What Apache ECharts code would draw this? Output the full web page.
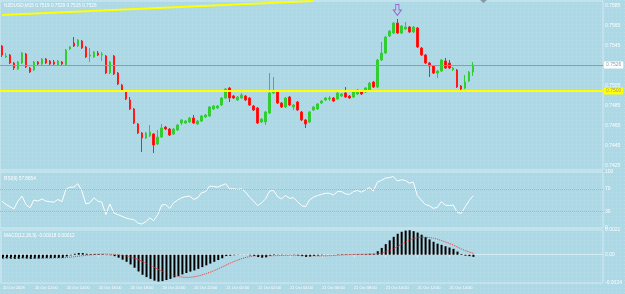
<!DOCTYPE html>
<html>
<head>
<meta charset="utf-8">
<title>NZDUSD M15</title>
<script src="https://cdn.jsdelivr.net/npm/echarts@6/dist/echarts.min.js"></script>
<style>
    html, body { margin: 0; padding: 0; background: #add8e6; }
    #main { width: 625px; height: 294px; }
</style>
</head>
<body>
<div id="main"></div>
<script type="text/javascript">
    // NZDUSD 15 minute bars, 20 Oct 10:00 .. 21 Oct 15:30
    var opens = [
        0.7545, 0.7534, 0.7536, 0.7528, 0.7522, 0.7528, 0.7537, 0.7523, 0.7521, 0.7529,
        0.7527, 0.7532, 0.7530, 0.7529, 0.7526, 0.7529, 0.7526, 0.7542, 0.7548, 0.7545,
        0.7550, 0.7544, 0.7535, 0.7534, 0.7538, 0.7536, 0.7535, 0.7518, 0.7535, 0.7518,
        0.7506, 0.7500, 0.7491, 0.7482, 0.7467, 0.7458, 0.7453, 0.7455, 0.7457, 0.7447,
        0.7454, 0.7464, 0.7462, 0.7457, 0.7461, 0.7468, 0.7468, 0.7469, 0.7473, 0.7467,
        0.7470, 0.7474, 0.7475, 0.7482, 0.7483, 0.7486, 0.7493, 0.7503, 0.7495, 0.7491,
        0.7493, 0.7495, 0.7493, 0.7485, 0.7483, 0.7469, 0.7469, 0.7478, 0.7498, 0.7499,
        0.7488, 0.7484, 0.7494, 0.7484, 0.7489, 0.7479, 0.7471, 0.7469, 0.7481, 0.7482,
        0.7488, 0.7491, 0.7492, 0.7493, 0.7492, 0.7495, 0.7498, 0.7495, 0.7494, 0.7497,
        0.7500, 0.7499, 0.7501, 0.7509, 0.7504, 0.7531, 0.7538, 0.7555, 0.7558, 0.7568,
        0.7558, 0.7562, 0.7564, 0.7559, 0.7563, 0.7543, 0.7536, 0.7528, 0.7525, 0.7518,
        0.7520, 0.7530, 0.7528, 0.7521, 0.7521, 0.7505, 0.7503, 0.7510, 0.7519
    ];
    var closes = [
        0.7536, 0.7535, 0.7528, 0.7523, 0.7529, 0.7538, 0.7524, 0.7519, 0.7529, 0.7527,
        0.7532, 0.7528, 0.7527, 0.7527, 0.7530, 0.7527, 0.7541, 0.7544, 0.7545, 0.7551,
        0.7543, 0.7534, 0.7536, 0.7539, 0.7536, 0.7537, 0.7518, 0.7529, 0.7517, 0.7507,
        0.7500, 0.7492, 0.7482, 0.7468, 0.7458, 0.7453, 0.7458, 0.7459, 0.7446, 0.7454,
        0.7463, 0.7462, 0.7456, 0.7462, 0.7466, 0.7471, 0.7470, 0.7473, 0.7468, 0.7470,
        0.7475, 0.7476, 0.7484, 0.7485, 0.7485, 0.7493, 0.7502, 0.7493, 0.7493, 0.7494,
        0.7496, 0.7491, 0.7486, 0.7481, 0.7468, 0.7472, 0.7479, 0.7498, 0.7500, 0.7488,
        0.7484, 0.7493, 0.7486, 0.7486, 0.7481, 0.7471, 0.7467, 0.7479, 0.7484, 0.7487,
        0.7490, 0.7493, 0.7493, 0.7490, 0.7498, 0.7497, 0.7494, 0.7493, 0.7499, 0.7501,
        0.7497, 0.7503, 0.7508, 0.7504, 0.7531, 0.7538, 0.7554, 0.7560, 0.7568, 0.7558,
        0.7565, 0.7564, 0.7559, 0.7564, 0.7544, 0.7536, 0.7528, 0.7525, 0.7518, 0.7520,
        0.7531, 0.7523, 0.7523, 0.7523, 0.7504, 0.7502, 0.7509, 0.7519, 0.7526
    ];
    var highs = [
        0.7546, 0.7538, 0.7537, 0.7529, 0.7530, 0.7539, 0.7538, 0.7524, 0.7530, 0.7530,
        0.7533, 0.7533, 0.7531, 0.7531, 0.7531, 0.7530, 0.7542, 0.7545, 0.7554, 0.7552,
        0.7551, 0.7545, 0.7543, 0.7540, 0.7540, 0.7539, 0.7536, 0.7530, 0.7536, 0.7519,
        0.7507, 0.7501, 0.7494, 0.7483, 0.7468, 0.7459, 0.7459, 0.7466, 0.7458, 0.7461,
        0.7467, 0.7465, 0.7463, 0.7463, 0.7467, 0.7472, 0.7471, 0.7474, 0.7476, 0.7471,
        0.7476, 0.7477, 0.7485, 0.7486, 0.7486, 0.7494, 0.7503, 0.7504, 0.7496, 0.7495,
        0.7498, 0.7496, 0.7494, 0.7486, 0.7484, 0.7473, 0.7480, 0.7518, 0.7514, 0.7500,
        0.7489, 0.7494, 0.7495, 0.7487, 0.7490, 0.7480, 0.7472, 0.7480, 0.7485, 0.7488,
        0.7491, 0.7494, 0.7495, 0.7494, 0.7499, 0.7498, 0.7504, 0.7496, 0.7500, 0.7502,
        0.7501, 0.7504, 0.7509, 0.7510, 0.7532, 0.7549, 0.7555, 0.7561, 0.7569, 0.7572,
        0.7566, 0.7569, 0.7565, 0.7565, 0.7564, 0.7544, 0.7537, 0.7529, 0.7526, 0.7521,
        0.7532, 0.7533, 0.7531, 0.7524, 0.7522, 0.7506, 0.7516, 0.7520, 0.7529
    ];
    var lows = [
        0.7534, 0.7533, 0.7527, 0.7521, 0.7521, 0.7527, 0.7523, 0.7518, 0.7520, 0.7526,
        0.7526, 0.7527, 0.7526, 0.7525, 0.7525, 0.7526, 0.7525, 0.7541, 0.7544, 0.7544,
        0.7542, 0.7533, 0.7529, 0.7533, 0.7535, 0.7530, 0.7517, 0.7517, 0.7516, 0.7506,
        0.7499, 0.7491, 0.7481, 0.7467, 0.7457, 0.7439, 0.7452, 0.7454, 0.7438, 0.7446,
        0.7453, 0.7461, 0.7455, 0.7456, 0.7460, 0.7466, 0.7467, 0.7468, 0.7467, 0.7466,
        0.7469, 0.7473, 0.7474, 0.7481, 0.7482, 0.7485, 0.7492, 0.7489, 0.7492, 0.7490,
        0.7492, 0.7490, 0.7485, 0.7480, 0.7467, 0.7468, 0.7466, 0.7477, 0.7497, 0.7487,
        0.7483, 0.7483, 0.7485, 0.7481, 0.7480, 0.7470, 0.7463, 0.7468, 0.7480, 0.7481,
        0.7487, 0.7490, 0.7490, 0.7489, 0.7491, 0.7494, 0.7493, 0.7492, 0.7493, 0.7496,
        0.7496, 0.7498, 0.7500, 0.7503, 0.7503, 0.7530, 0.7537, 0.7554, 0.7557, 0.7557,
        0.7557, 0.7561, 0.7558, 0.7558, 0.7543, 0.7535, 0.7527, 0.7514, 0.7517, 0.7513,
        0.7519, 0.7522, 0.7522, 0.7520, 0.7503, 0.7500, 0.7502, 0.7509, 0.7515
    ];

    var rsi = [
        48, 42, 38, 34, 48, 57, 42, 36, 50, 48,
        52, 48, 47, 46, 51, 47, 69, 73, 73, 79,
        66, 43, 45, 54, 48, 46, 24, 43, 27, 24,
        21, 18, 16, 15, 9, 7, 11, 18, 13, 24,
        41, 42, 35, 45, 50, 54, 56, 57, 51, 54,
        63, 65, 75, 74, 73, 76, 79, 70, 70, 69,
        70, 64, 55, 48, 40, 45, 52, 66, 67, 56,
        52, 58, 53, 54, 47, 40, 38, 50, 55, 58,
        60, 62, 62, 59, 65, 65, 61, 60, 65, 67,
        64, 68, 72, 66, 82, 85, 89, 90, 92, 84,
        86, 85, 80, 82, 58, 50, 42, 40, 35, 37,
        47, 41, 40, 41, 28, 26, 38, 49, 57.8654
    ];

    var macdMain = [
        -0.00032, -0.00031, -0.00033, -0.00035, -0.00034, -0.00030, -0.00032, -0.00035, -0.00033, -0.00032,
        -0.00030, -0.00029, -0.00029, -0.00028, -0.00027, -0.00027, -0.00015, -0.00005, 0.00008, 0.00015,
        0.00014, 0.00008, 0.00006, 0.00007, 0.00006, 0.00005, -0.00003, -0.00004, -0.00012, -0.00025,
        -0.00042, -0.00060, -0.00082, -0.00110, -0.00142, -0.00170, -0.00190, -0.00205, -0.00220, -0.00228,
        -0.00224, -0.00215, -0.00205, -0.00192, -0.00180, -0.00167, -0.00155, -0.00143, -0.00133, -0.00120,
        -0.00105, -0.00090, -0.00075, -0.00060, -0.00045, -0.00030, -0.00012, -0.00008, -0.00004, -0.00002,
        0.00001, -0.00001, -0.00005, -0.00010, -0.00020, -0.00025, -0.00022, -0.00008, 0.00004, 0.00002,
        -0.00002, 0.00001, -0.00001, -0.00002, -0.00006, -0.00012, -0.00018, -0.00015, -0.00010, -0.00007,
        -0.00004, -0.00001, 0.00001, 0.00001, 0.00003, 0.00004, 0.00004, 0.00003, 0.00004, 0.00005,
        0.00005, 0.00006, 0.00008, 0.00008, 0.00030, 0.00058, 0.00090, 0.00122, 0.00152, 0.00178,
        0.00195, 0.00205, 0.00208, 0.00200, 0.00188, 0.00170, 0.00150, 0.00130, 0.00110, 0.00094,
        0.00084, 0.00072, 0.00061, 0.00050, 0.00027, 0.00006, -0.00008, -0.00012, -0.00018
    ];
    var macdSignal = [
        -0.00023, -0.00024, -0.00024, -0.00025, -0.00026, -0.00026, -0.00027, -0.00027, -0.00028, -0.00028,
        -0.00028, -0.00028, -0.00028, -0.00027, -0.00027, -0.00026, -0.00024, -0.00020, -0.00017, -0.00012,
        -0.00008, -0.00004, -0.00001, 0.00002, 0.00004, 0.00005, 0.00005, 0.00004, 0.00002, -0.00001,
        -0.00006, -0.00012, -0.00020, -0.00030, -0.00043, -0.00058, -0.00074, -0.00091, -0.00108, -0.00125,
        -0.00141, -0.00155, -0.00167, -0.00177, -0.00185, -0.00190, -0.00192, -0.00191, -0.00187, -0.00180,
        -0.00171, -0.00160, -0.00148, -0.00134, -0.00119, -0.00103, -0.00087, -0.00071, -0.00057, -0.00044,
        -0.00032, -0.00022, -0.00015, -0.00010, -0.00008, -0.00008, -0.00009, -0.00009, -0.00008, -0.00007,
        -0.00006, -0.00005, -0.00005, -0.00004, -0.00005, -0.00006, -0.00008, -0.00009, -0.00010, -0.00010,
        -0.00010, -0.00009, -0.00008, -0.00006, -0.00004, -0.00002, 0.00000, 0.00001, 0.00002, 0.00003,
        0.00004, 0.00004, 0.00005, 0.00005, 0.00008, 0.00014, 0.00024, 0.00037, 0.00053, 0.00071,
        0.00090, 0.00109, 0.00125, 0.00137, 0.00145, 0.00149, 0.00149, 0.00146, 0.00140, 0.00131,
        0.00120, 0.00108, 0.00095, 0.00081, 0.00065, 0.00049, 0.00034, 0.00022, 0.00012
    ];

    var timeLabels = ['20 Oct 2009', '20 Oct 12:00', '20 Oct 14:00', '20 Oct 16:00', '20 Oct 18:00',
        '20 Oct 20:00', '20 Oct 22:00', '21 Oct 00:00', '21 Oct 02:00', '21 Oct 04:00',
        '21 Oct 06:00', '21 Oct 08:00', '21 Oct 10:00', '21 Oct 12:00', '21 Oct 14:00'];
    var priceTicks = [0.7585, 0.7565, 0.7545, 0.7525, 0.7505, 0.7485, 0.7465, 0.7445, 0.7425];
    var rsiTicks = [100, 70, 30, 0];
    var rsiLevels = [70, 30];
    var macdTicks = [0.0021, 0, -0.0024];
    var supportLevel = 0.7500;
    var trendLine = [[0, 0.7576], [78, 0.7590]];
    var arrowBar = 99;
    var shiftBars = 32;   // empty space right of the last bar

    var last = closes.length - 1;
    var categories = [];
    for (var i = 0; i < closes.length + shiftBars; i++) {
        categories.push(String(i));
    }
    var candles = [];
    for (var i = 0; i < closes.length; i++) {
        candles.push([opens[i], closes[i], lows[i], highs[i]]);
    }

    var bg = '#add8e6';
    var txt = '#ffffff';
    var border = '#d4ecf4';
    var fontFamily = 'Liberation Sans, Arial, sans-serif';

    // faint dotted texture like the terminal's grid
    var tile = document.createElement('canvas');
    tile.width = 4;
    tile.height = 4;
    var tctx = tile.getContext('2d');
    tctx.fillStyle = bg;
    tctx.fillRect(0, 0, 4, 4);
    tctx.fillStyle = '#b9dfeb';
    tctx.fillRect(0, 0, 1, 1);

    function labelEvery8(idx) {
        return idx % 8 === 0 && idx / 8 < timeLabels.length;
    }

    function xAxis(gridIndex, showLabels) {
        return {
            type: 'category',
            gridIndex: gridIndex,
            data: categories,
            axisLine: { show: showLabels, lineStyle: { color: border } },
            axisTick: { show: showLabels, interval: labelEvery8, alignWithLabel: true, length: 3, lineStyle: { color: border } },
            axisLabel: {
                show: showLabels, interval: labelEvery8, align: 'left', margin: 3,
                fontSize: 4, color: txt, fontFamily: fontFamily,
                formatter: function (v, idx) { return timeLabels[idx / 8] || ''; }
            },
            splitLine: { show: false }
        };
    }

    function yAxis(gridIndex, min, max, ticks, fmt) {
        return {
            type: 'value',
            gridIndex: gridIndex,
            position: 'right',
            min: min,
            max: max,
            axisLine: { show: false },
            axisTick: { show: false },
            splitLine: { show: false },
            axisLabel: {
                customValues: ticks, margin: 2, fontSize: 5, color: txt,
                fontFamily: fontFamily, formatter: fmt
            }
        };
    }

    // one horizontal price line with its tag on the price scale
    function levelSeries(name, value, lineColor, width, tagBg, tagColor) {
        return {
            name: name,
            type: 'line',
            xAxisIndex: 0,
            yAxisIndex: 0,
            data: [],
            markLine: {
                silent: true,
                precision: 4,
                symbol: ['none', 'none'],
                lineStyle: { color: lineColor, width: width, type: 'solid' },
                label: {
                    position: 'end', distance: 1, formatter: f4(value),
                    backgroundColor: tagBg, color: tagColor, fontSize: 5,
                    padding: [1, 2], fontFamily: fontFamily
                },
                data: [{ yAxis: value }]
            }
        };
    }

    function f4(v) { return v.toFixed(4); }
    function f5(v) { return v.toFixed(5); }

    var titleStyle = { fontSize: 4.7, color: txt, fontWeight: 'normal', fontFamily: fontFamily };

    var myChart = echarts.init(document.getElementById('main'));
    var option = {
        backgroundColor: { image: tile, repeat: 'repeat' },
        animation: false,
        title: [
            { text: 'NZDUSD,M15 ' + [opens[last], highs[last], lows[last], closes[last]].map(f4).join(' '),
              left: 4, top: 3, padding: 0, textStyle: titleStyle },
            { text: 'RSI(9) ' + rsi[last].toFixed(4), left: 4, top: 176, padding: 0, textStyle: titleStyle },
            { text: 'MACD(12,26,9) ' + f5(macdMain[last]) + ' ' + f5(macdSignal[last]),
              left: 4, top: 233, padding: 0, textStyle: titleStyle }
        ],
        grid: [
            { left: 0, right: 22, top: 1, height: 169, show: true, borderColor: border, borderWidth: 1 },
            { left: 0, right: 22, top: 172, height: 56, show: true, borderColor: border, borderWidth: 1 },
            { left: 0, right: 22, top: 230, height: 53, show: true, borderColor: border, borderWidth: 1 }
        ],
        xAxis: [xAxis(0, false), xAxis(1, false), xAxis(2, true)],
        yAxis: [
            yAxis(0, 0.7421, 0.7590, priceTicks, f4),
            yAxis(1, 0, 100, rsiTicks, function (v) { return String(v); }),
            yAxis(2, -0.0024, 0.0021, macdTicks, function (v) { return v === 0 ? '0.00' : v.toFixed(4); })
        ],
        series: [
            levelSeries('support', supportLevel, '#ffff00', 2, '#ffff00', '#9a9a9a'),
            levelSeries('bid', closes[last], '#8a9ea8', 1, '#ffffff', '#8a9ea8'),
            {
                name: 'trend',
                type: 'line',
                xAxisIndex: 0,
                yAxisIndex: 0,
                data: [],
                markLine: {
                    silent: true,
                    precision: 4,
                    symbol: ['none', 'none'],
                    label: { show: false },
                    lineStyle: { color: '#ffff00', width: 2, type: 'solid' },
                    data: [[{ coord: trendLine[0] }, { coord: trendLine[1] }]]
                }
            },
            {
                name: 'NZDUSD',
                type: 'candlestick',
                xAxisIndex: 0,
                yAxisIndex: 0,
                barWidth: 2,
                data: candles,
                itemStyle: {
                    color: '#32cd32', color0: '#ff0000',
                    borderColor: '#32cd32', borderColor0: '#ff1a1a', borderWidth: 1
                },
                markPoint: {
                    silent: true,
                    data: [{
                        coord: [arrowBar, highs[arrowBar]],
                        symbol: 'path://M3,0 L7,0 L7,6 L10,6 L5,12 L0,6 L3,6 Z',
                        symbolSize: [8, 11],
                        symbolOffset: [0, -9],
                        itemStyle: { color: 'rgba(0,0,0,0)', borderColor: '#9966cc', borderWidth: 1 },
                        label: { show: false }
                    }]
                }
            },
            {
                name: 'RSI',
                type: 'line',
                xAxisIndex: 1,
                yAxisIndex: 1,
                data: rsi,
                symbol: 'none',
                lineStyle: { color: '#ffffff', width: 1 },
                markLine: {
                    silent: true,
                    symbol: ['none', 'none'],
                    label: { show: false },
                    lineStyle: { color: '#9fb8c2', width: 1, type: 'dotted' },
                    data: rsiLevels.map(function (v) { return { yAxis: v }; })
                }
            },
            {
                name: 'MACD',
                type: 'bar',
                xAxisIndex: 2,
                yAxisIndex: 2,
                data: macdMain,
                barWidth: 2,
                itemStyle: { color: '#000000' }
            },
            {
                name: 'Signal',
                type: 'line',
                xAxisIndex: 2,
                yAxisIndex: 2,
                data: macdSignal,
                symbol: 'none',
                lineStyle: { color: '#ff3030', width: 1, type: 'dotted' }
            }
        ],
        graphic: [{
            type: 'polygon',
            shape: { points: [[480, 0], [487, 0], [483.5, 3]] },
            style: { fill: '#8a9aa0' }
        }]
    };
    myChart.setOption(option);
</script>
</body>
</html>
